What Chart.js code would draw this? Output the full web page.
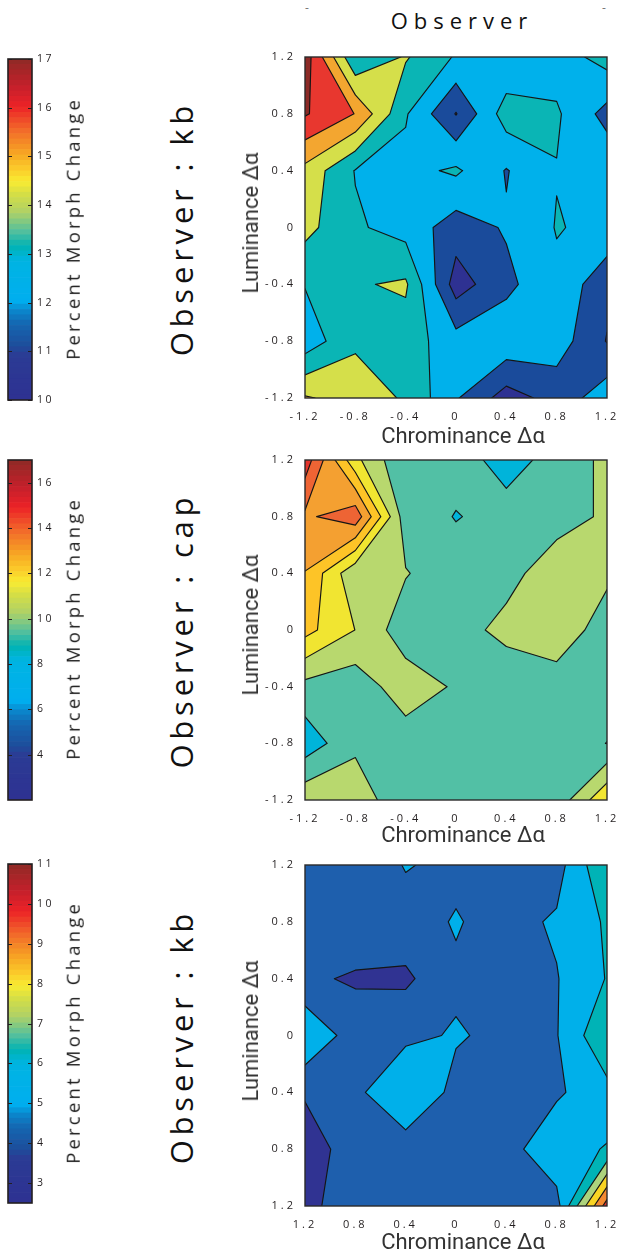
<!DOCTYPE html>
<html><head><meta charset="utf-8">
<script src="https://cdn.jsdelivr.net/npm/chart.js@4.4.1/dist/chart.umd.min.js"></script>
<style>
html,body{margin:0;padding:0;background:#fff;}
#page{position:relative;width:621px;height:1253px;overflow:hidden;font-family:'Open Sans',sans-serif;color:#231f20;}
.box{position:absolute;}
.txt{position:absolute;white-space:nowrap;line-height:1;}
</style></head>
<body><div id="page"></div>
<script>
// ---------------- data ----------------
const xGrid = [-1.2, -0.8, -0.4, 0, 0.4, 0.8, 1.2];
const yGrid = [1.2, 0.8, 0.4, 0, -0.4, -0.8, -1.2];   // grid rows, top to bottom
const tickValues = [-1.2, -0.8, -0.4, 0, 0.4, 0.8, 1.2];
const signedTickLabels = ['-1.2', '-0.8', '-0.4', '0', '0.4', '0.8', '1.2'];
const unsignedTickLabels = ['1.2', '0.8', '0.4', '0', '0.4', '0.8', '1.2'];

// panel 1 : Observer : kb
const panel1Title = 'Observer : kb';
const panel1Grid = [
  [17.54, 13.06, 14.10, 12.90, 12.10, 12.50, 13.40],
  [17.10, 15.97, 13.10, 10.95, 13.50, 13.14, 11.65],
  [14.70, 12.95, 12.68, 13.16, 11.94, 12.96, 12.75],
  [14.32, 13.14, 12.60, 11.50, 12.10, 13.05, 12.77],
  [13.05, 13.90, 14.15, 10.52, 11.75, 12.80, 11.26],
  [12.40, 13.83, 13.50, 12.40, 12.70, 12.50, 10.95],
  [15.10, 14.60, 13.87, 12.10, 10.55, 11.38, 12.60]
];
const panel1Levels = [11, 12, 13, 14, 15, 16, 17];
const panel1BandColors = ['#2E3192', '#1A4B9B', '#00B1EB', '#0AB5B5', '#D5DF4A', '#F3A630', '#E8372F', '#8C2A26'];
const panel1Range = [10, 17];
const panel1CbTicks = [10, 11, 12, 13, 14, 15, 16, 17];

// panel 2 : Observer : cap
const panel2Title = 'Observer : cap';
const panel2Grid = [
  [17.85, 11.40, 8.10, 8.40, 7.66, 8.31, 9.94],
  [15.20, 16.50, 8.60, 7.95, 8.34, 8.88, 9.73],
  [13.95, 9.80, 9.60, 8.50, 8.97, 10.40, 9.90],
  [13.00, 10.98, 8.58, 8.85, 9.97, 10.77, 8.50],
  [9.00, 8.55, 10.42, 9.30, 8.35, 8.50, 8.70],
  [7.11, 9.13, 8.65, 8.80, 8.70, 8.60, 7.98],
  [10.60, 10.60, 8.10, 8.70, 8.80, 8.51, 12.30]
];
const panel2Levels = [8, 9.5, 11, 12.5, 14, 15.5, 17];
const panel2BandColors = ['#00B4DA', '#52C0A5', '#B8D86E', '#F1E531', '#FDC427', '#F4A031', '#EE6434', '#E4342C'];
const panel2Range = [2, 17];
const panel2CbTicks = [4, 6, 8, 10, 12, 14, 16];

// panel 3 : Observer : kb
const panel3Title = 'Observer : kb';
const panel3Grid = [
  [4.50, 4.40, 5.05, 4.80, 4.50, 4.59, 6.95],
  [4.50, 4.57, 4.67, 5.06, 4.66, 5.13, 6.13],
  [4.14, 3.90, 3.80, 4.88, 4.60, 4.95, 6.05],
  [5.93, 4.46, 4.85, 5.06, 4.84, 4.95, 6.90],
  [4.14, 4.84, 5.64, 4.80, 4.60, 4.85, 5.67],
  [3.29, 4.68, 4.67, 4.60, 4.60, 5.76, 6.04],
  [3.70, 4.60, 4.50, 4.50, 4.50, 4.60, 10.50]
];
const panel3Levels = [4, 5, 6, 7, 8, 9, 10];
const panel3BandColors = ['#303392', '#1E5FAD', '#00B0EA', '#00B3B6', '#ADD37C', '#F9D423', '#F3892F', '#E5302D'];
const panel3Range = [2.5, 11];
const panel3CbTicks = [3, 4, 5, 6, 7, 8, 9, 10, 11];

// colour map of the colour bars
const cmapPos = [0, 0.13, 0.16, 0.22, 0.26, 0.29, 0.41, 0.45, 0.49, 0.55, 0.60, 0.64, 0.68, 0.72, 0.79, 0.86, 0.92, 1];
const cmapHex = ['#2E3192', '#2B3B94', '#1C4F9C', '#1565B0', '#0A86CB', '#00AEEF', '#00B4E2', '#00B3B3', '#4DBEA0', '#B0D166', '#D3DD47', '#F9EC32', '#FBC82A', '#F7A823', '#F26A2A', '#EC2227', '#C4202B', '#8E2A26'];
const cmapSteps = 64;

const axisTitleX = 'Chrominance Δα';
const axisTitleY = 'Luminance Δα';
const colorbarTitle = 'Percent Morph Change';
const pageTitle = 'Observer';

// ---------------- layout ----------------
const panels = [
  {title: panel1Title, grid: panel1Grid, levels: panel1Levels, colors: panel1BandColors, range: panel1Range, cbTicks: panel1CbTicks, labels: signedTickLabels,
   plotTop: 57, plotH: 341, cbTop: 59, cbH: 341, xTitleDy: 38},
  {title: panel2Title, grid: panel2Grid, levels: panel2Levels, colors: panel2BandColors, range: panel2Range, cbTicks: panel2CbTicks, labels: signedTickLabels,
   plotTop: 460, plotH: 340, cbTop: 460, cbH: 340, xTitleDy: 35},
  {title: panel3Title, grid: panel3Grid, levels: panel3Levels, colors: panel3BandColors, range: panel3Range, cbTicks: panel3CbTicks, labels: unsignedTickLabels,
   plotTop: 865, plotH: 341, cbTop: 864, cbH: 339, xTitleDy: 36}
];
const TOP_PAD = 9;

// ---------------- helpers ----------------
function hexToRgb(h) { const n = parseInt(h.slice(1), 16); return [(n >> 16) & 255, (n >> 8) & 255, n & 255]; }
function cmapColor(t) {
  for (let i = 1; i < cmapPos.length; i++) {
    if (t <= cmapPos[i]) {
      const u = (t - cmapPos[i - 1]) / (cmapPos[i] - cmapPos[i - 1]);
      const a = hexToRgb(cmapHex[i - 1]), b = hexToRgb(cmapHex[i]);
      return 'rgb(' + a.map((v, k) => Math.round(v + (b[k] - v) * u)).join(',') + ')';
    }
  }
  return cmapHex[cmapHex.length - 1];
}

const page = document.getElementById('page');
function addBox(x, y, w, h) {
  const d = document.createElement('div'); d.className = 'box';
  d.style.left = x + 'px'; d.style.top = y + 'px'; d.style.width = w + 'px'; d.style.height = h + 'px';
  const c = document.createElement('canvas'); d.appendChild(c); page.appendChild(d); return c;
}
function addText(txt, cx, cy, opts) {
  const s = document.createElement('div'); s.className = 'txt'; s.textContent = txt;
  s.style.fontFamily = opts.family || "'Open Sans', sans-serif";
  s.style.fontSize = opts.size + 'px';
  s.style.color = opts.color || '#231f20';
  if (opts.weight) s.style.fontWeight = opts.weight;
  if (opts.ls) { s.style.letterSpacing = opts.ls + 'px'; s.style.paddingLeft = opts.ls + 'px'; }
  s.style.left = cx + 'px'; s.style.top = cy + 'px';
  s.style.transform = 'translate(-50%,-50%)' + (opts.rot ? ' rotate(-90deg)' : '');
  page.appendChild(s); return s;
}

function spacingPlugin(px) {
  return { id: 'spacing', beforeDraw(chart) { chart.ctx.letterSpacing = px + 'px'; } };
}

// contour geometry for one cell and one level (marching squares, linear edges)
function cellGeometry(P, A, L) {
  const up = A.map(a => a >= L);
  const n = up.filter(Boolean).length;
  const polys = [], segs = [];
  if (n === 0) return {polys, segs};
  if (n === 4) { polys.push(P); return {polys, segs}; }
  const cross = i => {
    const j = (i + 1) % 4, t = (L - A[i]) / (A[j] - A[i]);
    return [P[i][0] + (P[j][0] - P[i][0]) * t, P[i][1] + (P[j][1] - P[i][1]) * t];
  };
  if (n === 2 && up[0] === up[2]) {
    const e = [cross(0), cross(1), cross(2), cross(3)];
    const c = (A[0] + A[1] + A[2] + A[3]) / 4;
    if (c >= L) {
      const poly = [];
      for (let i = 0; i < 4; i++) { if (up[i]) poly.push(P[i]); poly.push(e[i]); }
      polys.push(poly);
      for (let i = 0; i < 4; i++) if (!up[i]) segs.push([e[(i + 3) % 4], e[i]]);
    } else {
      for (let i = 0; i < 4; i++) if (up[i]) { polys.push([P[i], e[i], e[(i + 3) % 4]]); segs.push([e[(i + 3) % 4], e[i]]); }
    }
    return {polys, segs};
  }
  const poly = [], cr = [];
  for (let i = 0; i < 4; i++) {
    if (up[i]) poly.push(P[i]);
    if (up[i] !== up[(i + 1) % 4]) { const p = cross(i); poly.push(p); cr.push(p); }
  }
  polys.push(poly);
  if (cr.length === 2) segs.push([cr[0], cr[1]]);
  return {polys, segs};
}

function contourPlugin(grid, levels, colors) {
  return {
    id: 'contour',
    beforeDatasetsDraw(chart) {
      const {ctx, chartArea: a, scales: {x, y}} = chart;
      const px = p => [x.getPixelForValue(p[0]), y.getPixelForValue(p[1])];
      ctx.save();
      ctx.beginPath(); ctx.rect(a.left, a.top, a.right - a.left, a.bottom - a.top); ctx.clip();
      ctx.fillStyle = colors[0];
      ctx.fillRect(a.left, a.top, a.right - a.left, a.bottom - a.top);
      const allSegs = [];
      levels.forEach((L, k) => {
        ctx.beginPath();
        const segs = [];
        for (let r = 0; r < yGrid.length - 1; r++) {
          for (let c = 0; c < xGrid.length - 1; c++) {
            const P = [[xGrid[c], yGrid[r + 1]], [xGrid[c + 1], yGrid[r + 1]], [xGrid[c + 1], yGrid[r]], [xGrid[c], yGrid[r]]];
            const A = [grid[r + 1][c], grid[r + 1][c + 1], grid[r][c + 1], grid[r][c]];
            const g = cellGeometry(P, A, L);
            g.polys.forEach(poly => {
              poly.forEach((p, i) => { const q = px(p); if (i === 0) ctx.moveTo(q[0], q[1]); else ctx.lineTo(q[0], q[1]); });
              ctx.closePath();
            });
            g.segs.forEach(s => segs.push(s));
          }
        }
        ctx.fillStyle = colors[k + 1];
        ctx.fill();
        allSegs.push(segs);
      });
      ctx.strokeStyle = '#151515'; ctx.lineWidth = 1.15; ctx.lineCap = 'round'; ctx.lineJoin = 'round';
      allSegs.forEach(segs => {
        ctx.beginPath();
        segs.forEach(s => { const p = px(s[0]), q = px(s[1]); ctx.moveTo(p[0], p[1]); ctx.lineTo(q[0], q[1]); });
        ctx.stroke();
      });
      ctx.restore();
      ctx.save();
      ctx.strokeStyle = '#2a2a2a'; ctx.lineWidth = 1.4;
      ctx.strokeRect(a.left, a.top, a.right - a.left, a.bottom - a.top);
      ctx.restore();
    }
  };
}

const cbFrame = {
  id: 'cbFrame',
  afterDatasetsDraw(chart) {
    const {ctx, chartArea: a, scales: {y}} = chart;
    ctx.save();
    ctx.strokeStyle = '#231f20'; ctx.lineWidth = 1.2;
    y.ticks.forEach(t => {
      const py = Math.round(y.getPixelForValue(t.value)) + 0.5;
      ctx.beginPath();
      ctx.moveTo(a.left, py); ctx.lineTo(a.left + 4, py);
      ctx.moveTo(a.right - 4, py); ctx.lineTo(a.right, py);
      ctx.stroke();
    });
    ctx.lineWidth = 1.6;
    ctx.strokeRect(a.left, a.top, a.right - a.left, a.bottom - a.top);
    ctx.restore();
  }
};

function makeColorbar(canvas, range, ticks) {
  const [lo, hi] = range;
  const step = (hi - lo) / cmapSteps;
  const datasets = [];
  for (let i = 0; i < cmapSteps; i++) {
    datasets.push({data: [[lo + i * step, lo + (i + 1) * step]], backgroundColor: cmapColor((i + 0.5) / cmapSteps),
      borderWidth: 0, barPercentage: 1, categoryPercentage: 1, grouped: false});
  }
  new Chart(canvas, {
    type: 'bar',
    data: {labels: ['cb'], datasets},
    options: {
      responsive: true, maintainAspectRatio: false, animation: false, events: [],
      layout: {padding: 0},
      plugins: {legend: {display: false}, tooltip: {enabled: false}},
      scales: {
        x: {display: false},
        y: {position: 'right', min: lo, max: hi,
            grid: {display: false, drawTicks: false}, border: {display: false},
            afterBuildTicks: s => { s.ticks = ticks.map(v => ({value: v})); },
            afterFit: s => { s.width = 30; s.paddingTop = 10; s.paddingBottom = 10; },
            ticks: {padding: 5, color: '#231f20', font: {family: "'Open Sans'", size: 10.5}, callback: v => String(v)}}
      }
    },
    plugins: [cbFrame, spacingPlugin(2.5), {id: 'cbPad', beforeLayout(chart) { chart.options.layout.padding = {left: 8, top: 0, right: 0, bottom: 0}; }}]
  });
}

function makeContour(canvas, p) {
  new Chart(canvas, {
    type: 'scatter',
    data: {datasets: []},
    options: {
      responsive: true, maintainAspectRatio: false, animation: false, events: [],
      layout: {padding: 0},
      plugins: {legend: {display: false}, tooltip: {enabled: false}},
      scales: {
        x: {type: 'linear', min: -1.2, max: 1.2,
            grid: {display: false, drawTicks: false}, border: {display: false},
            afterBuildTicks: s => { s.ticks = tickValues.map(v => ({value: v})); },
            afterFit: s => { s.height = 52; s.paddingLeft = 0; s.paddingRight = 14; },
            ticks: {padding: 12, autoSkip: false, maxRotation: 0, color: '#231f20', font: {family: "'Open Sans'", size: 11},
                    callback: (v, i) => p.labels[i]}},
        y: {type: 'linear', min: -1.2, max: 1.2,
            grid: {display: false, drawTicks: false}, border: {display: false},
            afterBuildTicks: s => { s.ticks = tickValues.map(v => ({value: v})); },
            afterFit: s => { s.width = 70; s.paddingTop = TOP_PAD; s.paddingBottom = 0; },
            ticks: {padding: 9, autoSkip: false, color: '#231f20', font: {family: "'Open Sans'", size: 11},
                    callback: (v, i) => p.labels[i]}}
      }
    },
    plugins: [contourPlugin(p.grid, p.levels, p.colors), spacingPlugin(3)]
  });
}

// ---------------- build ----------------
addText(pageTitle, 459, 20, {size: 22, ls: 6, color: '#111'});
addText('-', 307, 8, {size: 12, color: '#777'});
addText('-', 604, 8, {size: 12, color: '#777'});

panels.forEach(p => {
  const cbCanvas = addBox(0, p.cbTop - 10, 62, p.cbH + 20);
  makeColorbar(cbCanvas, p.range, p.cbTicks);
  const cCanvas = addBox(235, p.plotTop - TOP_PAD, 386, p.plotH + TOP_PAD + 52);
  makeContour(cCanvas, p);
  const midY = p.plotTop + p.plotH / 2;
  addText(colorbarTitle, 73, p.cbTop + p.cbH / 2, {size: 18.5, ls: 3.2, rot: true, color: '#1d1d1d'});
  addText(p.title, 181, midY + 3, {size: 31, ls: 4.8, rot: true, color: '#111'});
  addText(axisTitleY, 251, midY - 5, {size: 22, family: 'Roboto, sans-serif', color: '#333', rot: true});
  addText(axisTitleX, 463, p.plotTop + p.plotH + p.xTitleDy, {size: 22, family: 'Roboto, sans-serif', color: '#333'});
});
</script>
</body></html>
